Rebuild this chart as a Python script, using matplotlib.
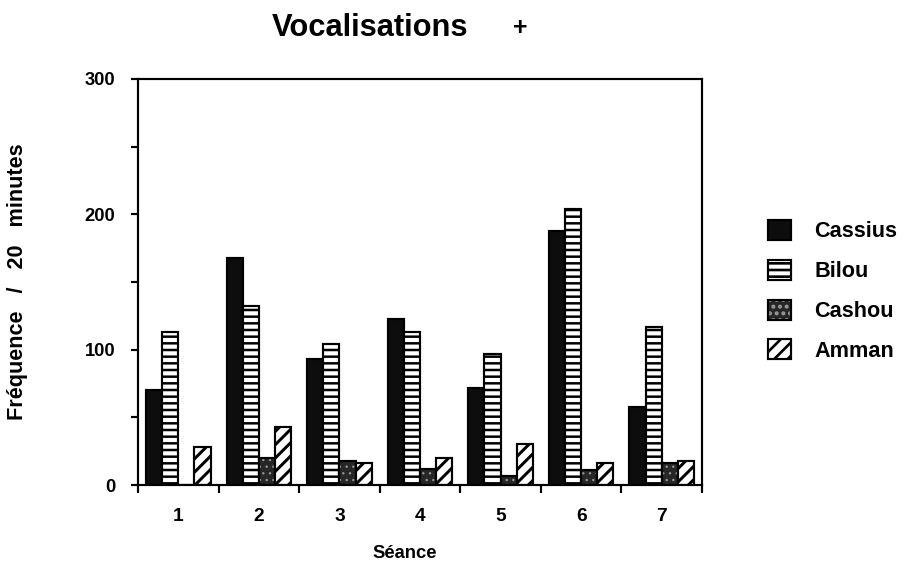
import matplotlib
matplotlib.use("Agg")
import matplotlib.pyplot as plt
import numpy as np
from matplotlib.legend_handler import HandlerTuple

plt.rcParams['font.family'] = ['Liberation Sans', 'DejaVu Sans']
plt.rcParams['hatch.linewidth'] = 1.6

seances = ['1', '2', '3', '4', '5', '6', '7']
cassius = [70, 168, 93, 123, 72, 188, 58]
bilou = [113, 132, 104, 113, 97, 204, 117]
cashou = [0, 20, 18, 12, 7, 11, 16]
amman = [28, 43, 16, 20, 30, 16, 18]
yticks = [0, 100, 200, 300]

DPI = 120
fig = plt.figure(figsize=(909 / DPI, 566 / DPI), dpi=DPI)
ax = fig.add_axes([138 / 909, 1 - 485 / 566, (702 - 138) / 909, (485 - 79) / 566])

x = np.arange(1, len(seances) + 1)
w = 0.2
lw = 1.3

def hlw(container, val):
    for p in container:
        if hasattr(p, 'set_hatch_linewidth'):
            p.set_hatch_linewidth(val)

b1 = ax.bar(x - 1.5 * w, cassius, w, color='#0d0d0d', edgecolor='black', linewidth=lw, label='Cassius')
b2 = ax.bar(x - 0.5 * w, bilou, w, color='white', edgecolor='black', hatch='---', linewidth=lw, label='Bilou')
hlw(b2, 1.5)
b3a = ax.bar(x + 0.5 * w, cashou, w, color='#262626', edgecolor='#9a9a9a', hatch='...', linewidth=0)
hlw(b3a, 0.6)
b3b = ax.bar(x + 0.5 * w, cashou, w, fill=False, edgecolor='black', linewidth=lw)
b4 = ax.bar(x + 1.5 * w, amman, w, color='white', edgecolor='black', hatch='///', linewidth=lw, label='Amman')
hlw(b4, 1.8)

ax.set_xlim(0.5, len(seances) + 0.5)
ax.set_ylim(0, 300)

ax.set_xticks(np.arange(0.5, len(seances) + 1, 1.0))
ax.set_xticklabels([])
ax.set_xticks(x, minor=True)
ax.set_xticklabels(seances, minor=True, fontsize=11.5, fontweight='bold')
ax.tick_params(axis='x', which='major', direction='out', length=4.5, width=lw)
ax.tick_params(axis='x', which='minor', length=0, pad=14)

ax.set_yticks(yticks)
ax.set_yticklabels([str(v) for v in yticks], fontsize=11, fontweight='bold')
ax.set_yticks([50, 150, 250], minor=True)
ax.tick_params(axis='y', which='both', direction='out', length=4.5, width=lw, pad=9)

for s in ax.spines.values():
    s.set_linewidth(lw)

fig.text(370 / 909, 1 - 28 / 566, 'Vocalisations', ha='center', va='center',
         fontsize=18.5, fontweight='bold')
fig.text(520 / 909, 1 - 28 / 566, '+', ha='center', va='center',
         fontsize=15, fontweight='bold')
fig.text(18 / 909, 1 - 282 / 566, 'Fréquence   /   20   minutes', rotation=90,
         ha='center', va='center', fontsize=13, fontweight='bold')
fig.text(405 / 909, 1 - 553 / 566, 'Séance', ha='center', va='center',
         fontsize=11, fontweight='bold')

leg = fig.legend([b1, b2, (b3a, b3b), b4], ['Cassius', 'Bilou', 'Cashou', 'Amman'],
                 handler_map={tuple: HandlerTuple(ndivide=1)},
                 loc='upper left', bbox_to_anchor=(768 / 909, 1 - 220 / 566),
                 frameon=False, fontsize=13, handlelength=1.05, handleheight=1.05,
                 handletextpad=1.1, labelspacing=0.8, borderpad=0, borderaxespad=0)
for t in leg.get_texts():
    t.set_fontweight('bold')

fig.savefig('out.png', dpi=DPI)
